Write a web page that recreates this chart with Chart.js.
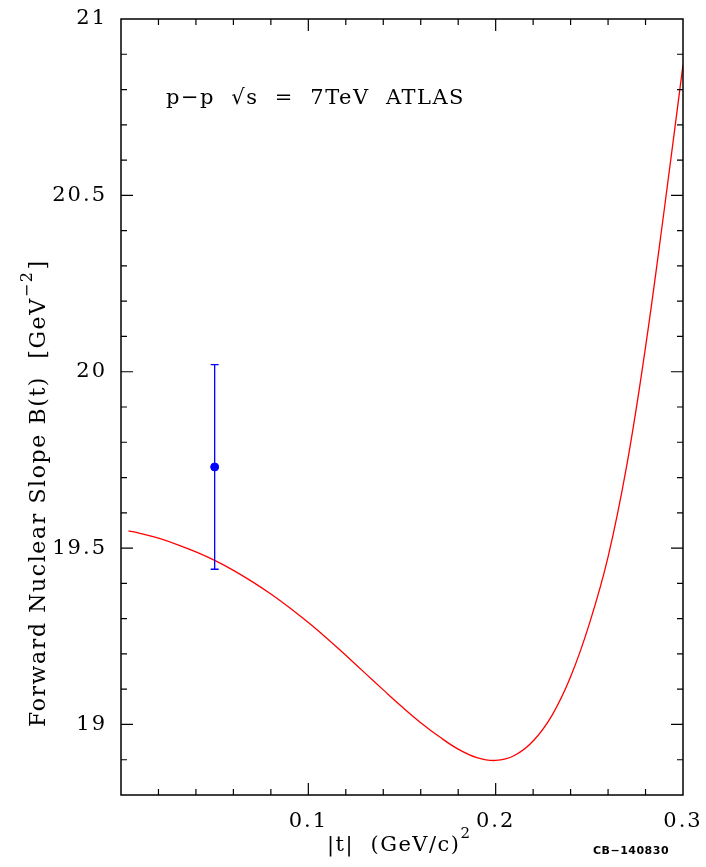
<!DOCTYPE html>
<html>
<head>
<meta charset="utf-8">
<script src="https://cdn.jsdelivr.net/npm/chart.js@4"></script>
<style>
  html, body { margin: 0; padding: 0; background: #fff; }
  #wrap { width: 706px; height: 867px; }
</style>
</head>
<body>
<div id="wrap"><canvas id="c"></canvas></div>
<script>
// B(t) curve, p-p 7 TeV
var tVals = [0.004, 0.01, 0.02, 0.03, 0.04, 0.05, 0.06, 0.07, 0.08, 0.09, 0.10,
             0.11, 0.12, 0.13, 0.14, 0.15, 0.16, 0.17, 0.18, 0.19, 0.20,
             0.21, 0.22, 0.23, 0.24, 0.25, 0.26, 0.27, 0.28, 0.29, 0.30];
var bVals = [19.549, 19.542, 19.528, 19.510, 19.489, 19.465, 19.437, 19.405, 19.370, 19.331, 19.289,
             19.244, 19.196, 19.147, 19.098, 19.050, 19.005, 18.965, 18.930, 18.906, 18.898,
             18.912, 18.953, 19.025, 19.135, 19.285, 19.475, 19.735, 20.070, 20.460, 20.870];

// ATLAS point
var atlasT = [0.05];
var atlasB = [19.73];
var atlasErr = [0.29];

var xTickLabels = [0.1, 0.2, 0.3];
var yTickLabels = [19, 19.5, 20, 20.5, 21];

var serif = '"DejaVu Serif", serif';

var frame = {
  id: 'frame',
  beforeDraw: function(chart) {
    chart.ctx.letterSpacing = '2px';
  },
  afterDraw: function(chart) {
    var ctx = chart.ctx, a = chart.chartArea;
    var xs = chart.scales.x, ys = chart.scales.y;
    ctx.save();
    ctx.strokeStyle = '#000';
    ctx.lineWidth = 1.5;
    ctx.strokeRect(a.left, a.top, a.right - a.left, a.bottom - a.top);
    ctx.lineWidth = 1.2;
    // inward ticks, minor every 0.02 / 0.1
    for (var i = 1; i < 15; i++) {
      var v = i * 0.02, px = xs.getPixelForValue(v);
      var len = (i % 5 === 0) ? 12 : 6;
      ctx.beginPath();
      ctx.moveTo(px, a.bottom); ctx.lineTo(px, a.bottom - len);
      ctx.moveTo(px, a.top); ctx.lineTo(px, a.top + len);
      ctx.stroke();
    }
    for (var j = 1; j < 22; j++) {
      var w = 18.8 + j * 0.1, py = ys.getPixelForValue(w);
      var k = Math.round(w * 10);
      var l2 = (k % 5 === 0) ? 12 : 6;
      ctx.beginPath();
      ctx.moveTo(a.left, py); ctx.lineTo(a.left + l2, py);
      ctx.moveTo(a.right, py); ctx.lineTo(a.right - l2, py);
      ctx.stroke();
    }
    // error bar
    ctx.strokeStyle = '#0000ff';
    ctx.lineWidth = 1.3;
    for (var n = 0; n < atlasT.length; n++) {
      var ex = xs.getPixelForValue(atlasT[n]);
      var hi = ys.getPixelForValue(atlasB[n] + atlasErr[n]);
      var lo = ys.getPixelForValue(atlasB[n] - atlasErr[n]);
      ctx.beginPath();
      ctx.moveTo(ex, hi); ctx.lineTo(ex, lo);
      ctx.moveTo(ex - 4, hi); ctx.lineTo(ex + 4, hi);
      ctx.moveTo(ex - 4, lo); ctx.lineTo(ex + 4, lo);
      ctx.stroke();
    }
    // texts
    ctx.fillStyle = '#000';
    ctx.textBaseline = 'middle';
    ctx.textAlign = 'left';
    ctx.letterSpacing = '1.5px';
    ctx.font = '21px ' + serif;
    ctx.fillText('p\u2212p  \u221As  =  7TeV  ATLAS', 166, 99);

    ctx.letterSpacing = '1.5px';
    ctx.font = '21px ' + serif;
    ctx.fillText('|t|  (GeV/c)', 327, 846);
    var wx = ctx.measureText('|t|  (GeV/c)').width;
    ctx.font = '15px ' + serif;
    ctx.fillText('2', 327 + wx, 834);

    ctx.save();
    ctx.translate(39, 727);
    ctx.rotate(-Math.PI / 2);
    ctx.letterSpacing = '1.6px';
    ctx.font = '22px ' + serif;
    var ytxt = 'Forward Nuclear Slope B(t)  [GeV';
    ctx.fillText(ytxt, 0, 0);
    var wy = ctx.measureText(ytxt).width;
    ctx.font = '16px ' + serif;
    ctx.fillText('\u22122', wy, -11);
    var ws = ctx.measureText('\u22122').width;
    ctx.font = '22px ' + serif;
    ctx.fillText(']', wy + ws + 1, 0);
    ctx.restore();

    ctx.letterSpacing = '0.5px';
    ctx.font = 'bold 11px "DejaVu Sans", sans-serif';
    ctx.textAlign = 'center';
    ctx.fillText('CB\u2212140830', 631, 851);
    ctx.restore();
  }
};

new Chart(document.getElementById('c'), {
  type: 'scatter',
  data: {
    datasets: [
      {
        data: tVals.map(function(t, i) { return { x: t, y: bVals[i] }; }),
        showLine: true,
        borderColor: '#ff0000',
        borderWidth: 1.3,
        pointRadius: 0,
        tension: 0.4
      },
      {
        data: atlasT.map(function(t, i) { return { x: t, y: atlasB[i] }; }),
        backgroundColor: '#0000ff',
        borderColor: '#0000ff',
        pointRadius: 4
      }
    ]
  },
  options: {
    responsive: true,
    maintainAspectRatio: false,
    animation: false,
    layout: { padding: { top: 19, right: 23, left: 0, bottom: 0 } },
    plugins: { legend: { display: false }, tooltip: { enabled: false } },
    scales: {
      x: {
        type: 'linear', min: 0, max: 0.3,
        afterBuildTicks: function(s) { s.ticks = xTickLabels.map(function(v) { return { value: v }; }); },
        afterFit: function(s) { s.height = 72; s.paddingLeft = 0; s.paddingRight = 0; },
        grid: { display: false, drawTicks: false },
        border: { display: false },
        ticks: { color: '#000', font: { family: serif, size: 21 }, padding: 14, maxRotation: 0,
                 callback: function(v) { return String(v); } }
      },
      y: {
        type: 'linear', min: 18.8, max: 21,
        afterBuildTicks: function(s) { s.ticks = yTickLabels.map(function(v) { return { value: v }; }); },
        afterFit: function(s) { s.width = 121; s.paddingTop = 0; s.paddingBottom = 0; },
        grid: { display: false, drawTicks: false },
        border: { display: false },
        ticks: { color: '#000', font: { family: serif, size: 21 }, padding: 14,
                 callback: function(v) { return String(v); } }
      }
    }
  },
  plugins: [frame]
});
</script>
</body>
</html>
